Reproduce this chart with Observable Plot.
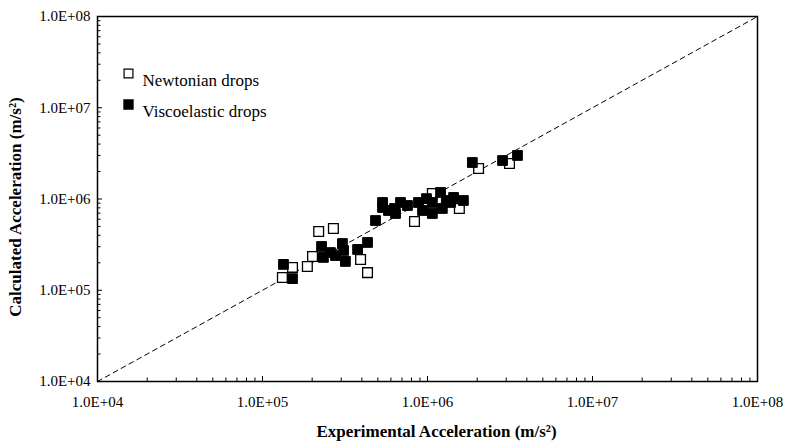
<!DOCTYPE html>
<html>
<head>
<meta charset="utf-8">
<script src="https://cdn.jsdelivr.net/npm/d3@7"></script>
<script src="https://cdn.jsdelivr.net/npm/@observablehq/plot@0.6"></script>
<style>
  html, body { margin: 0; padding: 0; background: #fff; }
  #chart svg { display: block; font-family: "Liberation Serif", "Times New Roman", serif !important; }
  #chart svg text, #chart svg g { font-family: "Liberation Serif", "Times New Roman", serif !important; }
</style>
</head>
<body>
<div id="chart"></div>
<script>
// ---- data ----
const seriesNames = ["Newtonian drops", "Viscoelastic drops"];

// Newtonian drops: experimental (x) vs calculated (y) acceleration, m/s^2
const newtonianX = [1.32e5, 1.52e5, 1.87e5, 2.01e5, 2.19e5, 2.69e5, 3.93e5, 4.33e5, 8.34e5, 1.07e6, 1.56e6, 2.04e6, 3.14e6];
const newtonianY = [1.38e5, 1.78e5, 1.82e5, 2.34e5, 4.40e5, 4.75e5, 2.17e5, 1.56e5, 5.67e5, 1.15e6, 7.87e5, 2.16e6, 2.45e6];

// Viscoelastic drops
const viscoX = [1.34e5, 1.52e5, 2.28e5, 2.34e5, 2.58e5, 2.77e5, 3.05e5, 3.10e5, 3.18e5, 3.77e5, 4.33e5, 4.84e5,
                5.34e5, 5.34e5, 5.80e5, 6.31e5, 6.40e5, 6.86e5, 7.56e5, 8.82e5, 9.33e5, 9.86e5, 1.07e6, 1.07e6,
                1.20e6, 1.23e6, 1.30e6, 1.38e6, 1.44e6, 1.65e6, 1.87e6, 2.85e6, 3.51e6];
const viscoY = [1.92e5, 1.34e5, 3.02e5, 2.29e5, 2.59e5, 2.40e5, 3.25e5, 2.73e5, 2.07e5, 2.80e5, 3.34e5, 5.81e5,
                9.16e5, 8.07e5, 7.48e5, 7.87e5, 6.94e5, 9.16e5, 8.49e5, 9.16e5, 7.48e5, 1.01e6, 6.94e5, 9.16e5,
                1.18e6, 7.87e5, 9.63e5, 9.16e5, 1.04e6, 9.63e5, 2.51e6, 2.64e6, 3.00e6];

// parity line y = x
const diagonal = [1e4, 1e8];

// axes
const majorTicks = [1e4, 1e5, 1e6, 1e7, 1e8];
const minorTicks = [];
for (let e = 4; e < 8; e++) for (let m = 2; m <= 9; m++) minorTicks.push(m * Math.pow(10, e));
const fmt = d => "1.0E+" + String(Math.round(Math.log10(d))).padStart(2, "0");

const xLabel = "Experimental Acceleration (m/s²)";
const yLabel = "Calculated Acceleration (m/s²)";

// ---- layout ----
const W = 791, H = 448;
const mL = 97, mR = 34, mT = 16, mB = 67;
const innerW = W - mL - mR, innerH = H - mT - mB;

const newtonian = newtonianX.map((x, i) => ({x, y: newtonianY[i]}));
const visco = viscoX.map((x, i) => ({x, y: viscoY[i]}));

const r = 5.5;
const serif = "Liberation Serif";

const chart = Plot.plot({
  width: W, height: H,
  marginLeft: mL, marginRight: mR, marginTop: mT, marginBottom: mB,
  style: {fontFamily: serif, fontSize: "14px", color: "#000", background: "#fff"},
  x: {type: "log", domain: [1e4, 1e8]},
  y: {type: "log", domain: [1e4, 1e8]},
  marks: [
    // dashed parity line
    Plot.line(diagonal, {x: d => d, y: d => d, stroke: "#000", strokeWidth: 1, strokeDasharray: "5,4"}),
    // inward ticks on bottom axis
    Plot.tickX(majorTicks, {x: d => d, insetTop: innerH - 5, stroke: "#000", strokeWidth: 1}),
    Plot.tickX(minorTicks, {x: d => d, insetTop: innerH - 3.5, stroke: "#000", strokeWidth: 1}),
    // inward ticks on left axis
    Plot.tickY(majorTicks, {y: d => d, insetRight: innerW - 5, stroke: "#000", strokeWidth: 1}),
    Plot.tickY(minorTicks, {y: d => d, insetRight: innerW - 3.5, stroke: "#000", strokeWidth: 1}),
    // tick labels + titles
    Plot.axisX(majorTicks, {anchor: "bottom", tickSize: 0, tickPadding: 15, tickFormat: fmt, fontSize: 15,
      fontFamily: serif, label: null}),
    Plot.axisY(majorTicks, {anchor: "left", tickSize: 0, tickPadding: 7, tickFormat: fmt, fontSize: 15,
      fontFamily: serif, label: null}),
    Plot.text([xLabel], {text: d => d, frameAnchor: "bottom", textAnchor: "middle", dy: 55, dx: 9,
      fontWeight: "bold", fontSize: 17, fontFamily: serif}),
    Plot.text([yLabel], {text: d => d, frameAnchor: "left", textAnchor: "middle", dx: -82, dy: 8, rotate: -90,
      fontWeight: "bold", fontSize: 17, fontFamily: serif}),
    // data
    Plot.dot(newtonian, {x: "x", y: "y", symbol: "square", r, fill: "#fff", stroke: "#000", strokeWidth: 1.3}),
    Plot.dot(visco, {x: "x", y: "y", symbol: "square", r, fill: "#000", stroke: "#000", strokeWidth: 1}),
    // legend
    Plot.dot([seriesNames[0]], {frameAnchor: "top-left", dx: 31, dy: 57, symbol: "square", r: 5, fill: "#fff", stroke: "#000", strokeWidth: 1.2}),
    Plot.dot([seriesNames[1]], {frameAnchor: "top-left", dx: 31, dy: 88, symbol: "square", r: 5, fill: "#000", stroke: "#000"}),
    ...seriesNames.map((n, i) => Plot.text([n], {text: d => d, frameAnchor: "top-left", dx: 45, dy: 57 + 31 * i,
      textAnchor: "start", fontSize: 17, fontFamily: serif})),
    // frame
    Plot.frame({stroke: "#000", strokeWidth: 1.5})
  ]
});

document.getElementById("chart").appendChild(chart);
</script>
</body>
</html>
